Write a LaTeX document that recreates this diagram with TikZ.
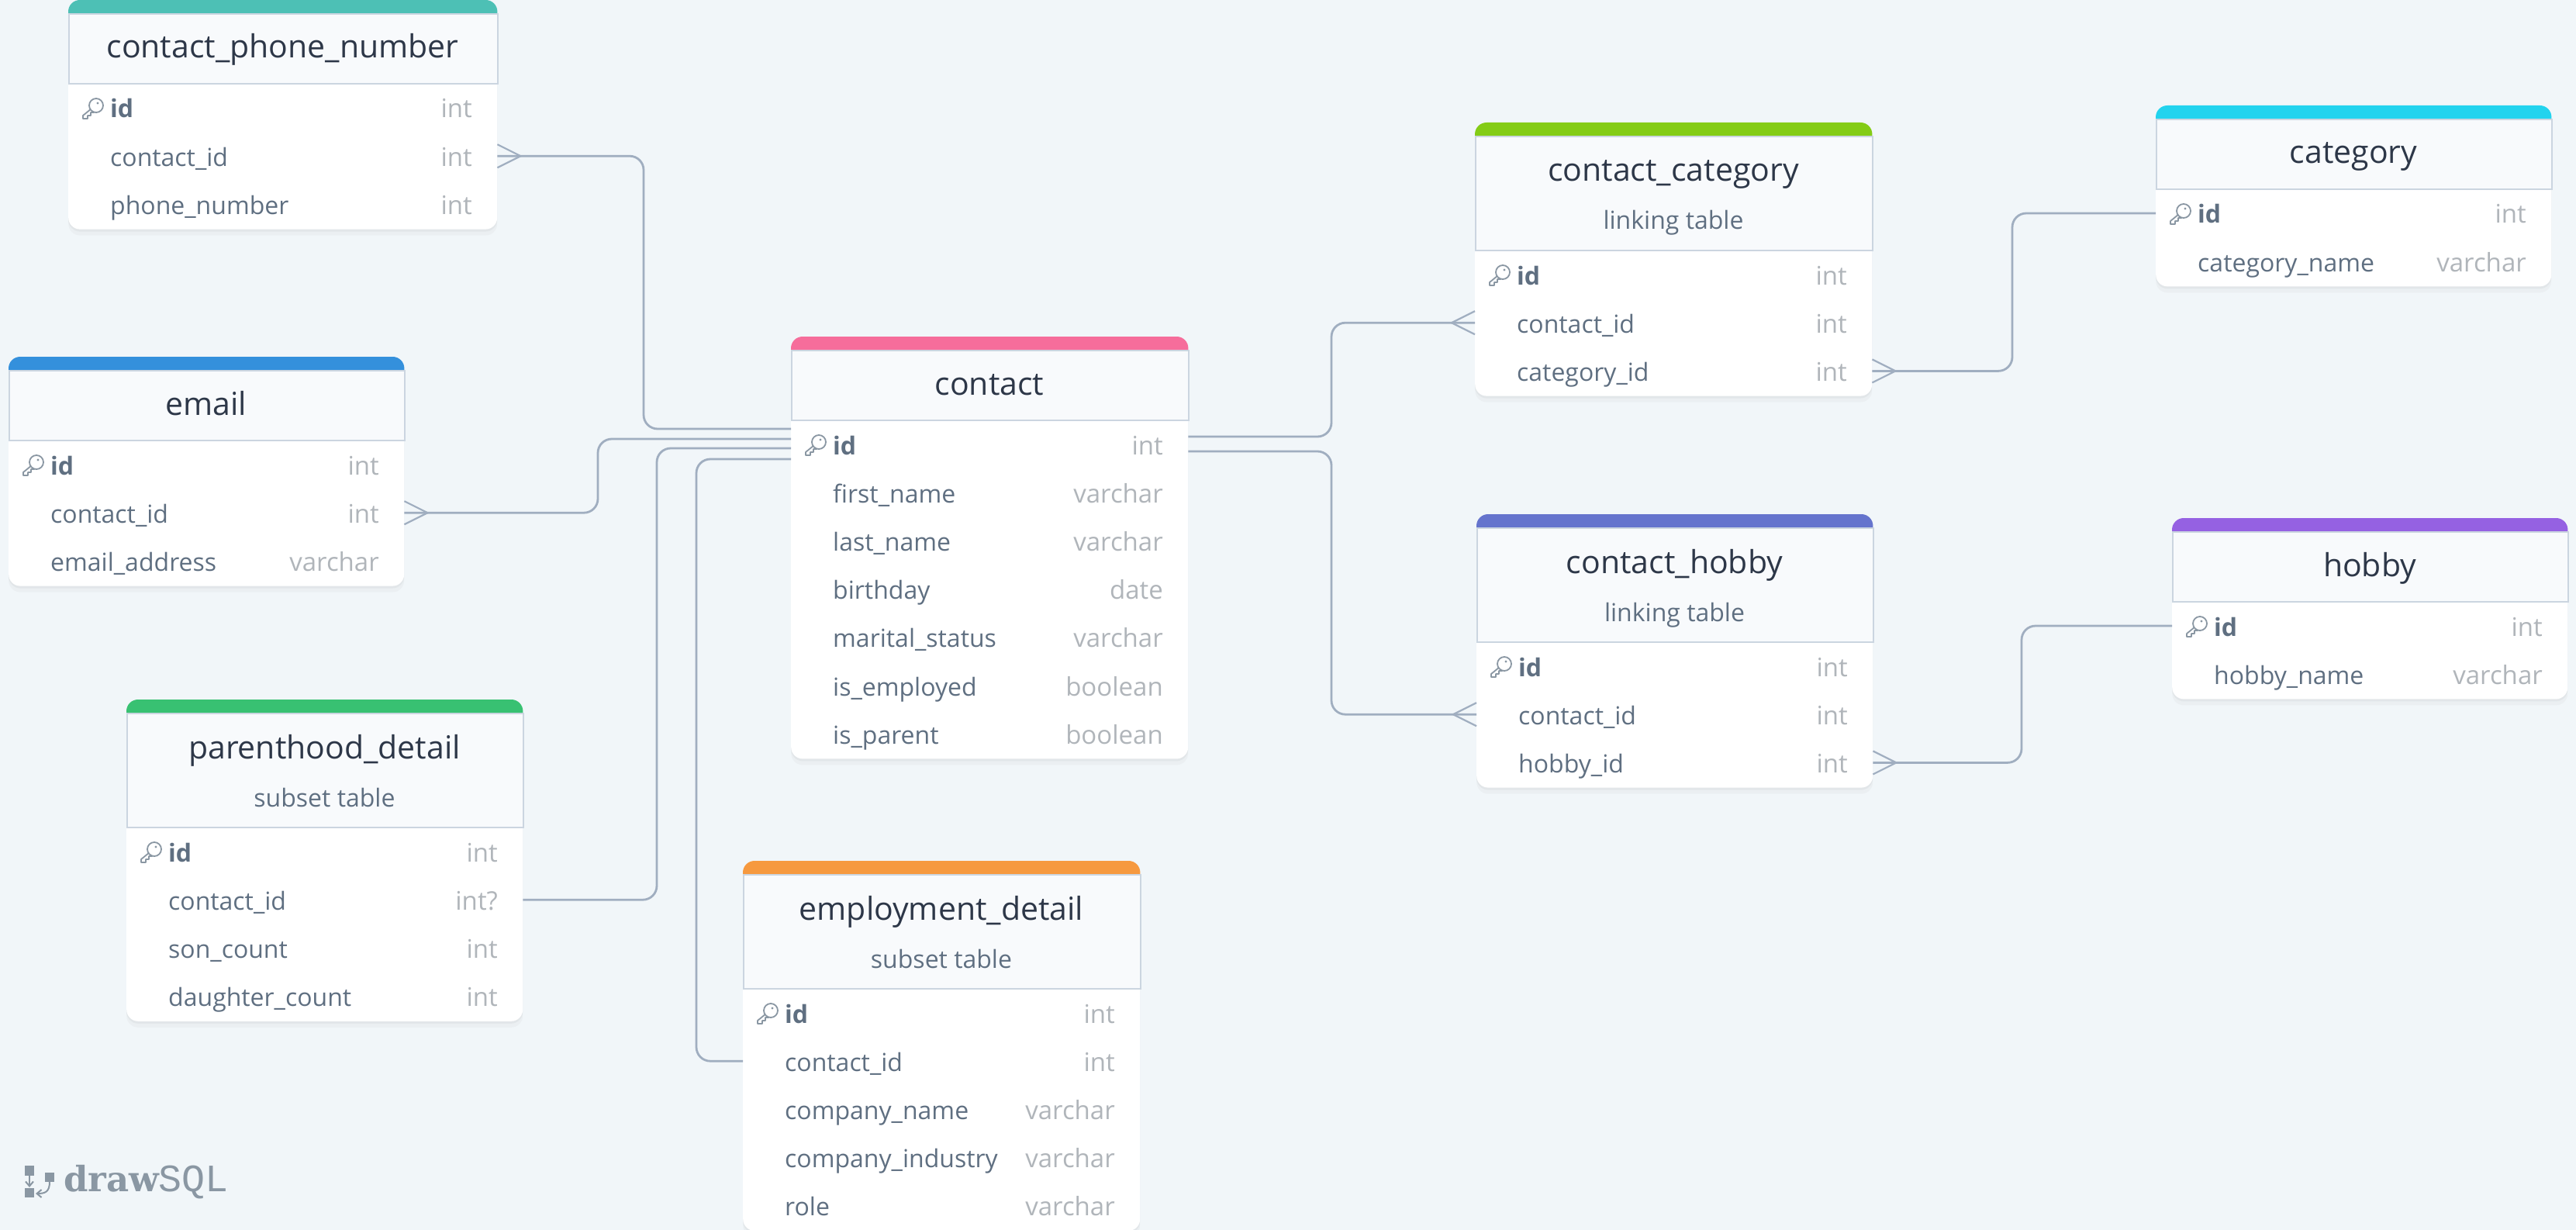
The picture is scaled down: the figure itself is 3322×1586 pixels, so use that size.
\documentclass[tikz,border=0pt]{standalone}
\usepackage{fontspec}
\setmainfont{Open Sans}
\newfontfamily\logobold{DejaVu Serif}[BoldFont={* Bold}]
\newfontfamily\logothin{Liberation Mono}
\usetikzlibrary{shadows,arrows.meta}

\definecolor{paper}{HTML}{F1F6F9}
\definecolor{rule}{HTML}{CBD5E0}
\definecolor{headfill}{HTML}{F8FAFC}
\definecolor{titleink}{HTML}{2D3748}
\definecolor{fieldink}{HTML}{5F6F81}
\definecolor{typeink}{HTML}{B0B5BA}
\definecolor{linkink}{HTML}{A0AEC0}
\definecolor{logoink}{HTML}{8A97A3}

\tikzset{
  tablebody/.style={fill=white,rounded corners=15pt,inner sep=0pt,anchor=north west,
    drop shadow={shadow xshift=0pt,shadow yshift=-3pt,opacity=.08},
    drop shadow={shadow xshift=0pt,shadow yshift=-8pt,opacity=.05}},
  headbox/.style={fill=headfill,draw=rule,line width=2pt,inner sep=0pt,anchor=north west},
  titletext/.style={inner sep=0pt,anchor=base,text=titleink,font=\fontsize{41}{48}\selectfont},
  subtext/.style={inner sep=0pt,anchor=base,text=fieldink,font=\fontsize{32}{38}\selectfont},
  fieldtext/.style={inner sep=0pt,anchor=base west,text=fieldink,font=\fontsize{32}{38}\selectfont},
  typetext/.style={inner sep=0pt,anchor=base east,text=typeink,font=\fontsize{33}{38}\selectfont},
  link/.style={draw=linkink,line width=2.8pt,rounded corners=18pt},
  crowline/.style={draw=linkink,line width=2.2pt},
  keyline/.style={draw=logoink,line width=1.8pt,line join=round,fill=white},
  logotip/.style={draw=logoink,line width=2pt,-{Straight Barb[length=6pt,width=10pt]}},
  pics/keyicon/.style={code={
    \draw[keyline] (-2,0) -- (-13,9) -- (-13,13) -- (-7,13) -- (-7,9) -- (-3,9) -- (-3,5) -- (1,5) -- cycle;
    \draw[keyline] (4,-4) circle (9);
    \fill[logoink] (6,-7) circle (1.6);
  }}
}

% id, x, y, width, colour, title, subtitle, rows
\newcommand{\dbtable}[8]{
  \foreach \rowname/\rowtype [count=\rowno] in {#8} {\global\let\rowtotal\rowno}
  \if\relax\detokenize{#7}\relax
    \def\headh{90}\def\titledrop{58}
  \else
    \def\headh{147}\def\titledrop{59}
  \fi
  \pgfmathsetmacro{\bary}{#3+17}
  \pgfmathsetmacro{\heady}{#3+17+\headh}
  \pgfmathsetmacro{\tableh}{17+\headh+32+62.2*(\rowtotal-1)+32}
  \pgfmathsetmacro{\midx}{#2+#4/2}
  \node[tablebody,minimum width=#4pt,minimum height=\tableh pt] (#1) at (#2,#3) {};
  \fill[#5,rounded corners=15pt] (#1.north west |- 0,\bary) -- (#1.north west) -- (#1.north east)
    [sharp corners] -- (#1.north east |- 0,\bary) -- cycle;
  \node[headbox,minimum width=#4pt,minimum height=\headh pt] (#1-head) at (#2,\bary) {};
  \pgfmathsetmacro{\titley}{\bary+\titledrop}
  \node[titletext] (#1-title) at (\midx,\titley) {#6};
  \if\relax\detokenize{#7}\relax\else
    \pgfmathsetmacro{\suby}{\bary+121}
    \node[subtext] (#1-sub) at (\midx,\suby) {#7};
  \fi
  \foreach \rowname/\rowtype [count=\rowno] in {#8} {
    \pgfmathsetmacro{\rowy}{\heady+32+62.2*(\rowno-1)}
    \pgfmathsetmacro{\basey}{\rowy+13}
    \pgfmathsetmacro{\namex}{#2+54}
    \pgfmathsetmacro{\typex}{#2+#4-32}
    \coordinate (#1-\rowno) at (#2,\rowy);
    \ifnum\rowno=1
      \node[fieldtext,font=\fontsize{32}{38}\selectfont\bfseries] (#1-\rowno-name) at (\namex,\basey) {\rowname};
      \pgfmathsetmacro{\keyx}{#2+32}
      \pic at (\keyx,\rowy+1) {keyicon};
    \else
      \node[fieldtext] (#1-\rowno-name) at (\namex,\basey) {\rowname};
    \fi
    \node[typetext] (#1-\rowno-type) at (\typex,\basey) {\rowtype};
  }
}
\newcommand{\fklink}[3]{\draw[link] (#1) -- (#1 -| #2,0) -- (#2,0 |- #3) -- (#3);}
\newcommand{\crowfoot}[2]{\draw[crowline] (#1) ++(0,-15) -- ++(#2*30,15) -- ++(-#2*30,15);}

\begin{document}
\begin{tikzpicture}[x=1pt,y=-1pt]
  \useasboundingbox (0,0) rectangle (3322,1586);
  \fill[paper] (0,0) rectangle (3322,1586);

  \definecolor{phonecol}{HTML}{4DC0B5}
  \definecolor{emailcol}{HTML}{3490DC}
  \definecolor{parentcol}{HTML}{38C172}
  \definecolor{jobcol}{HTML}{F6993F}
  \definecolor{contactcol}{HTML}{F66D9B}
  \definecolor{linkcatcol}{HTML}{84CC16}
  \definecolor{catcol}{HTML}{22D3EE}
  \definecolor{linkhobcol}{HTML}{6574CD}
  \definecolor{hobcol}{HTML}{9561E2}

  \dbtable{phone}{88}{0}{553}{phonecol}{contact\_phone\_number}{}
    {id/int,contact\_id/int,phone\_number/int}
  \dbtable{email}{11}{460}{510}{emailcol}{email}{}
    {id/int,contact\_id/int,email\_address/varchar}
  \dbtable{parent}{163}{902}{511}{parentcol}{parenthood\_detail}{subset table}
    {id/int,contact\_id/int?,son\_count/int,daughter\_count/int}
  \dbtable{job}{958}{1110}{512}{jobcol}{employment\_detail}{subset table}
    {id/int,contact\_id/int,company\_name/varchar,company\_industry/varchar,role/varchar}
  \dbtable{contact}{1020}{434}{512}{contactcol}{contact}{}
    {id/int,first\_name/varchar,last\_name/varchar,birthday/date,marital\_status/varchar,is\_employed/boolean,is\_parent/boolean}
  \dbtable{linkcat}{1902}{158}{512}{linkcatcol}{contact\_category}{linking table}
    {id/int,contact\_id/int,category\_id/int}
  \dbtable{category}{2780}{136}{510}{catcol}{category}{}
    {id/int,category\_name/varchar}
  \dbtable{linkhob}{1904}{663}{511}{linkhobcol}{contact\_hobby}{linking table}
    {id/int,contact\_id/int,hobby\_id/int}
  \dbtable{hobby}{2801}{668}{510}{hobcol}{hobby}{}
    {id/int,hobby\_name/varchar}

  % contact side ends of the links
  \coordinate (cw1) at (contact.west |- 0,553);
  \coordinate (cw2) at (contact.west |- 0,566);
  \coordinate (cw3) at (contact.west |- 0,578);
  \coordinate (cw4) at (contact.west |- 0,592);
  \coordinate (ce1) at (contact.east |- 0,563);
  \coordinate (ce2) at (contact.east |- 0,582);
  \coordinate (phonefk) at (phone.east |- phone-2);
  \coordinate (emailfk) at (email.east |- email-2);
  \coordinate (parentfk) at (parent.east |- parent-2);
  \coordinate (jobfk) at (job.west |- job-2);
  \coordinate (linkcatfk) at (linkcat.west |- linkcat-2);
  \coordinate (linkcatfk2) at (linkcat.east |- linkcat-3);
  \coordinate (catpk) at (category.west |- category-1);
  \coordinate (linkhobfk) at (linkhob.west |- linkhob-2);
  \coordinate (linkhobfk2) at (linkhob.east |- linkhob-3);
  \coordinate (hobpk) at (hobby.west |- hobby-1);

  \fklink{phonefk}{830}{cw1}
  \fklink{emailfk}{771}{cw2}
  \fklink{parentfk}{847}{cw3}
  \fklink{jobfk}{898}{cw4}
  \fklink{ce1}{1717}{linkcatfk}
  \fklink{ce2}{1717}{linkhobfk}
  \fklink{linkcatfk2}{2595}{catpk}
  \fklink{linkhobfk2}{2607}{hobpk}

  \crowfoot{phonefk}{1}
  \crowfoot{emailfk}{1}
  \crowfoot{linkcatfk}{-1}
  \crowfoot{linkcatfk2}{1}
  \crowfoot{linkhobfk}{-1}
  \crowfoot{linkhobfk2}{1}

  % logo
  \fill[logoink] (32,1503) rectangle (44,1516);
  \fill[logoink] (58,1512) rectangle (70,1524);
  \fill[logoink] (32,1532) rectangle (44,1544);
  \coordinate (logoa) at (38,1516);
  \coordinate (logob) at (38,1531);
  \coordinate (logoc) at (64,1524);
  \coordinate (logod) at (46,1539);
  \draw[logotip] (logoa) -- (logob);
  \draw[logotip] (logoc) .. controls (64,1537) and (58,1539) .. (logod);
  \node[inner sep=0pt,anchor=base west,text=logoink,font=\logobold\bfseries\fontsize{45}{50}\selectfont] (logodraw) at (82,1536) {draw};
  \node[inner sep=0pt,anchor=base west,text=logoink,font=\logothin\fontsize{50}{54}\selectfont] (logosql) at (204,1536) {SQL};
\end{tikzpicture}
\end{document}
